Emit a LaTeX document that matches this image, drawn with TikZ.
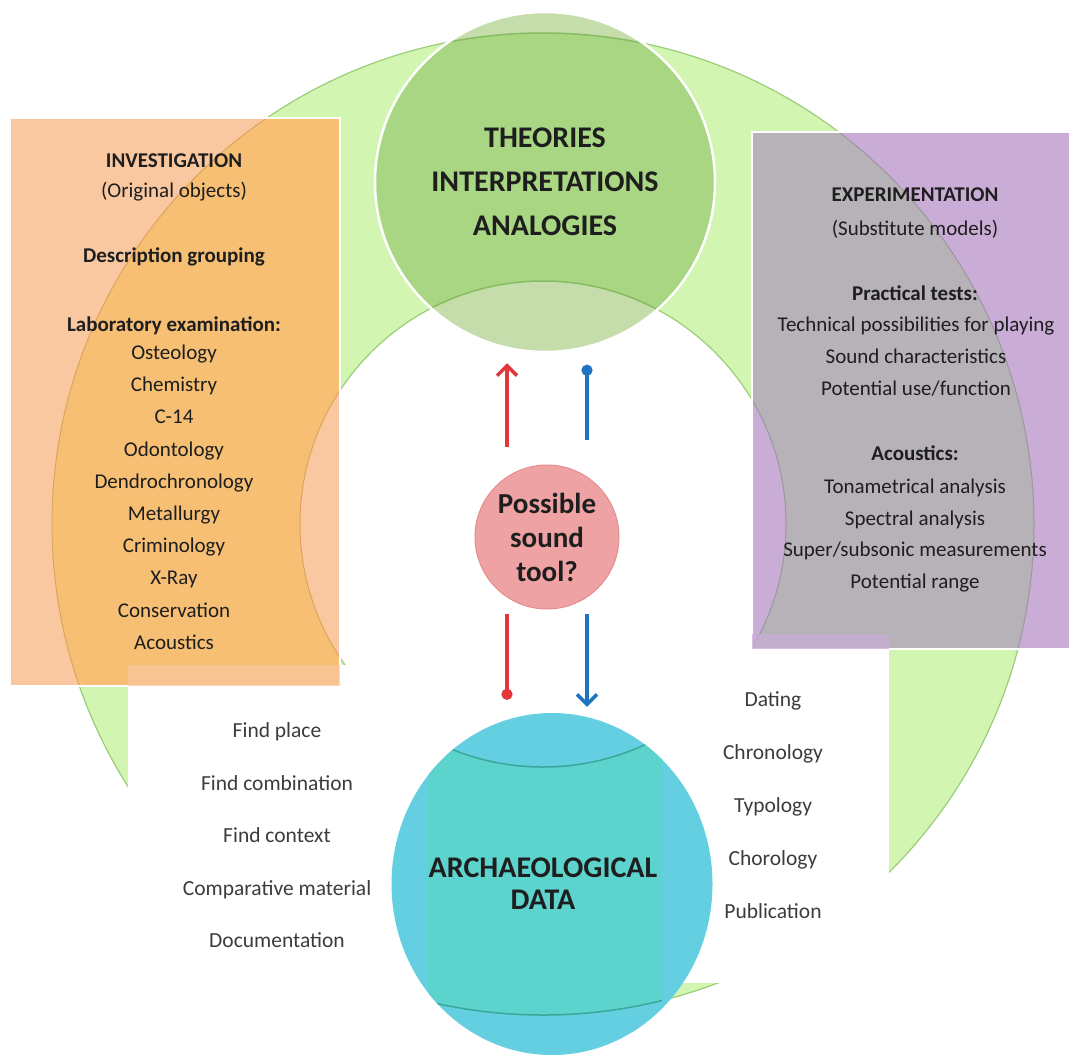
\documentclass[tikz,border=0pt]{standalone}
\usepackage{fontspec}
\setmainfont{Carlito}
\usetikzlibrary{arrows.meta,shapes.geometric}
\definecolor{ringfill}{HTML}{D2F5B2}
\definecolor{ringline}{HTML}{9CCE7A}
\definecolor{theocap}{HTML}{C5DDAA}
\definecolor{theoring}{HTML}{A9D682}
\definecolor{theoline}{HTML}{88BC62}
\definecolor{peach}{HTML}{F9C8A0}
\definecolor{orangefill}{HTML}{F6BF73}
\definecolor{orangeline}{HTML}{DDA55A}
\definecolor{lavender}{HTML}{C9ADD6}
\definecolor{greyfill}{HTML}{B6B2B7}
\definecolor{greyline}{HTML}{9C979D}
\definecolor{toolpink}{HTML}{EFA2A3}
\definecolor{toolrim}{HTML}{E48E90}
\definecolor{archcyan}{HTML}{63CFE0}
\definecolor{archteal}{HTML}{5DD3CD}
\definecolor{archline}{HTML}{3AA898}
\definecolor{arrred}{HTML}{E2363B}
\definecolor{arrblue}{HTML}{1F74C2}
\definecolor{txtdark}{HTML}{1E1E1E}
\definecolor{txtgrey}{HTML}{3C3C3C}
\begin{document}
\begin{tikzpicture}[x=1pt,y=-1pt,
	boxtxt/.style={font=\fontsize{21}{24}\selectfont, text=txtdark, inner sep=0pt, text height=14pt, text depth=5pt},
	boxhead/.style={boxtxt, font=\fontsize{21}{24}\selectfont\bfseries},
	listtxt/.style={boxtxt, font=\fontsize{21.5}{24}\selectfont, text=txtgrey},
	bigtitle/.style={font=\fontsize{30}{44}\selectfont\bfseries, align=center, inner sep=0pt, text=txtdark},
	redline/.style={draw=arrred, line width=3.5pt},
	blueline/.style={draw=arrblue, line width=3.5pt},
	barb/.style={-{Straight Barb[length=10pt,width=20pt]}},
	dot/.style={-{Circle[length=11pt]}}]
	\fill[white] (0,0) rectangle (1070,1057);
	\useasboundingbox (0,0) rectangle (1070,1057);
	\coordinate (rc) at (543,524);
	\fill[ringfill, even odd rule] (rc) circle[radius=491pt] (rc) circle[radius=243pt];
	\draw[ringline, line width=1.2pt] (rc) circle[radius=491pt] (rc) circle[radius=243pt];
	\fill[white] (128,665) rectangle (662,1057);
	\fill[white] (662,649) rectangle (889,983);
	\node[circle, minimum size=340pt, fill=theocap, draw=white, line width=2.5pt, bigtitle,
	      path picture={\fill[theoring, even odd rule] (rc) circle[radius=491pt] (rc) circle[radius=243pt];
	                    \draw[theoline, line width=1.5pt] (rc) circle[radius=491pt] (rc) circle[radius=243pt];}]
	      (theo) at (545,182) {THEORIES\\INTERPRETATIONS\\ANALOGIES};
	\node[rectangle, minimum width=330pt, minimum height=568pt, fill=peach, draw=white, line width=1.5pt,
	      path picture={\fill[orangefill, even odd rule] (rc) circle[radius=491pt] (rc) circle[radius=243pt];
	                    \draw[orangeline, line width=1pt] (rc) circle[radius=491pt] (rc) circle[radius=243pt];}]
	      (invest) at (175,402) {};
	\node[rectangle, minimum width=318pt, minimum height=517pt, fill=lavender, draw=white, line width=1.5pt,
	      path picture={\fill[greyfill, even odd rule] (rc) circle[radius=491pt] (rc) circle[radius=243pt];
	                    \draw[greyline, line width=1pt] (rc) circle[radius=491pt] (rc) circle[radius=243pt];}]
	      (exper) at (911,390.5) {};
	\fill[peach, fill opacity=0.7] (128,665) rectangle (340,686);
	\fill[lavender, fill opacity=0.75] (752,634) rectangle (889,649);
	\node[boxhead] (invh) at (174,163) {INVESTIGATION};
	\node[boxtxt] (invs) at (174,193) {(Original objects)};
	\node[boxhead] (desc) at (174,258) {Description grouping};
	\node[boxhead] (labh) at (174,327) {Laboratory examination:};
	\foreach \m [count=\i] in {Osteology,Chemistry,C-14,Odontology,Dendrochronology,Metallurgy,Criminology,X-Ray,Conservation,Acoustics}
		\node[boxtxt] (lab\i) at (174,{355+32.2*(\i-1)}) {\m};
	\node[boxhead] (exph) at (915,197) {EXPERIMENTATION};
	\node[boxtxt] (exps) at (915,231) {(Substitute models)};
	\node[boxhead] (prah) at (915,296) {Practical tests:};
	\foreach \m [count=\i] in {Technical possibilities for playing,Sound characteristics,{Potential use/function}}
		\node[boxtxt] (pra\i) at (916,{327+32*(\i-1)}) {\m};
	\node[boxhead] (acuh) at (915,456) {Acoustics:};
	\foreach \m [count=\i] in {Tonametrical analysis,Spectral analysis,{Super/subsonic measurements},Potential range}
		\node[boxtxt] (acu\i) at (915,{489+31.7*(\i-1)}) {\m};
	\foreach \m [count=\i] in {Find place,Find combination,Find context,Comparative material,Documentation}
		\node[listtxt] (find\i) at (277,{733+52.5*(\i-1)}) {\m};
	\foreach \m [count=\i] in {Dating,Chronology,Typology,Chorology,Publication}
		\node[listtxt] (date\i) at (773,{702+53*(\i-1)}) {\m};
	\node[circle, minimum size=144pt, inner sep=0pt, fill=toolpink, draw=toolrim, line width=1pt,
	      font=\fontsize{29}{34}\selectfont\bfseries, align=center, text=txtdark]
	      (tool) at (547,537) {Possible\\sound\\tool?};
	\node[ellipse, minimum width=321pt, minimum height=342pt, inner sep=0pt, fill=archcyan] (arch) at (552,884) {};
	\begin{scope}
		\clip (arch.center) ellipse[x radius=160.5pt, y radius=171pt];
		\clip (428,600) rectangle (662,1100);
		\fill[archteal, even odd rule] (rc) circle[radius=491pt] (rc) circle[radius=243pt];
		\draw[archline, line width=1.5pt] (rc) circle[radius=491pt] (rc) circle[radius=243pt];
	\end{scope}
	\node[bigtitle] (archtxt) at (543,884) {ARCHAEOLOGICAL\\[-12pt]DATA};
	\coordinate (redx) at (507,0);
	\coordinate (bluex) at (587,0);
	\draw[redline, barb, shorten <=18pt, shorten >=10pt] (tool.north -| redx) -- (theo.south -| redx);
	\draw[blueline, dot, shorten <=25pt, shorten >=11.5pt] (tool.north -| bluex) -- (theo.south -| bluex);
	\draw[redline, dot, shorten <=4pt, shorten >=13pt] (tool.south -| redx) -- (arch.north -| redx);
	\draw[blueline, barb, shorten <=4pt, shorten >=6pt] (tool.south -| bluex) -- (arch.north -| bluex);
\end{tikzpicture}
\end{document}
